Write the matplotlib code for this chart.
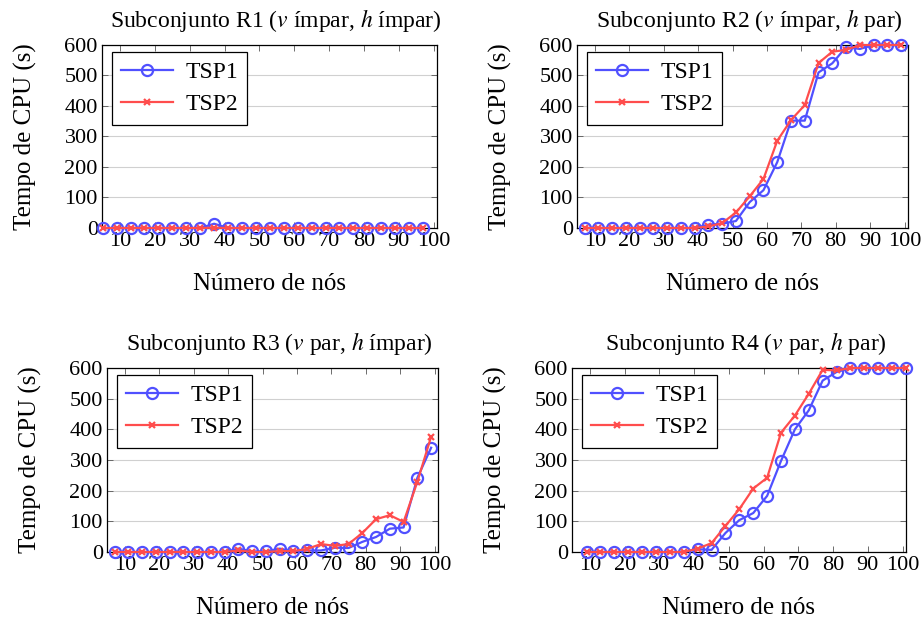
import numpy as np
import matplotlib
matplotlib.use("Agg")
import matplotlib.pyplot as plt

plt.rcParams['font.family'] = ['Liberation Serif', 'DejaVu Serif']
plt.rcParams['mathtext.fontset'] = 'stix'

# Número de nós per subset
x_r1 = [5, 9, 13, 17, 21, 25, 29, 33, 37, 41, 45, 49, 53, 57, 61, 65, 69, 73, 77, 81, 85, 89, 93, 97]
x_r2 = [7, 11, 15, 19, 23, 27, 31, 35, 39, 43, 47, 51, 55, 59, 63, 67, 71, 75, 79, 83, 87, 91, 95, 99]
x_r3 = [7, 11, 15, 19, 23, 27, 31, 35, 39, 43, 47, 51, 55, 59, 63, 67, 71, 75, 79, 83, 87, 91, 95, 99]
x_r4 = [9, 13, 17, 21, 25, 29, 33, 37, 41, 45, 49, 53, 57, 61, 65, 69, 73, 77, 81, 85, 89, 93, 97, 101]

# Tempo de CPU (s)
tsp1_r1 = [0, 0, 0, 0, 0, 0, 0, 0, 14, 0, 0, 0, 0, 0, 0, 0, 0, 0, 0, 0, 0, 0, 0, 0]
tsp2_r1 = [0, 0, 0, 0, 0, 0, 0, 0, 1, 0, 0, 0, 0, 0, 0, 0, 0, 0, 0, 0, 0, 0, 0, 0]

tsp1_r2 = [0, 0, 0, 0, 0, 0, 0, 0, 0, 11, 14, 23, 85, 124, 216, 352, 352, 510, 540, 593, 587, 600, 600, 600]
tsp2_r2 = [0, 0, 0, 0, 0, 0, 0, 0, 0, 5, 16, 51, 104, 161, 286, 354, 403, 541, 578, 584, 600, 600, 600, 600]

tsp1_r3 = [0, 0, 0, 0, 0, 0, 0, 0, 0, 11, 2, 2, 11, 2, 5, 5, 14, 13, 33, 49, 76, 80, 242, 340]
tsp2_r3 = [0, 0, 0, 0, 0, 0, 0, 0, 0, 5, 0, 0, 3, 3, 10, 26, 20, 26, 62, 107, 120, 98, 229, 376]

tsp1_r4 = [0, 0, 0, 0, 0, 0, 0, 0, 9, 7, 62, 104, 127, 183, 297, 400, 462, 559, 587, 600, 600, 600, 600, 600]
tsp2_r4 = [0, 0, 0, 0, 0, 0, 0, 0, 11, 29, 85, 140, 207, 242, 389, 445, 516, 594, 592, 600, 600, 600, 600, 600]

titles = [r"Subconjunto R1 ($v$ ímpar, $h$ ímpar)",
          r"Subconjunto R2 ($v$ ímpar, $h$ par)",
          r"Subconjunto R3 ($v$ par, $h$ ímpar)",
          r"Subconjunto R4 ($v$ par, $h$ par)"]

blue = '#5050ff'
red = '#ff4d4d'

W, H = 924, 620
fig = plt.figure(figsize=(W / 100, H / 100), dpi=100)

# axes boxes in pixels: left, right, top, bottom
boxes = [(102, 437, 45, 228), (577, 908, 45, 228),
         (107, 438, 368, 552), (572, 906, 368, 552)]
data = [(x_r1, tsp1_r1, tsp2_r1), (x_r2, tsp1_r2, tsp2_r2),
        (x_r3, tsp1_r3, tsp2_r3), (x_r4, tsp1_r4, tsp2_r4)]

for (l, r, t, b), (xs, y1, y2), title in zip(boxes, data, titles):
    ax = fig.add_axes([l / W, 1 - b / H, (r - l) / W, (b - t) / H])
    ax.plot(xs, y1, color=blue, lw=1.6, marker='o', ms=8, mfc='none',
            mew=1.6, label='TSP1', clip_on=False, zorder=3)
    ax.plot(xs, y2, color=red, lw=1.6, marker='x', ms=5, mew=1.6,
            label='TSP2', clip_on=False, zorder=4)
    ax.set_xlim(4.8, 101)
    ax.set_ylim(0, 600)
    ax.set_xticks(np.arange(10, 101, 10))
    ax.set_yticks(np.arange(0, 601, 100))
    ax.grid(axis='y', color='#d0d0d0', lw=0.8)
    ax.set_axisbelow(True)
    ax.tick_params(direction='in', top=True, right=True, labelsize=16,
                   length=4, width=0.6, color='#555555', pad=3)
    for s in ax.spines.values():
        s.set_linewidth(0.9)
    ax.set_title(title, fontsize=17, pad=13, x=0.52)
    ax.set_xlabel('Número de nós', fontsize=18, labelpad=16)
    ax.set_ylabel('Tempo de CPU (s)', fontsize=18, labelpad=20)
    leg = ax.legend(loc='upper left', fontsize=17, fancybox=False,
                    framealpha=1, edgecolor='black', handlelength=2.2,
                    borderpad=0.4, labelspacing=0.45, handletextpad=0.5,
                    borderaxespad=0, bbox_to_anchor=(0.03, 0.96))
    leg.get_frame().set_linewidth(0.9)

fig.savefig('out.png', dpi=100)
